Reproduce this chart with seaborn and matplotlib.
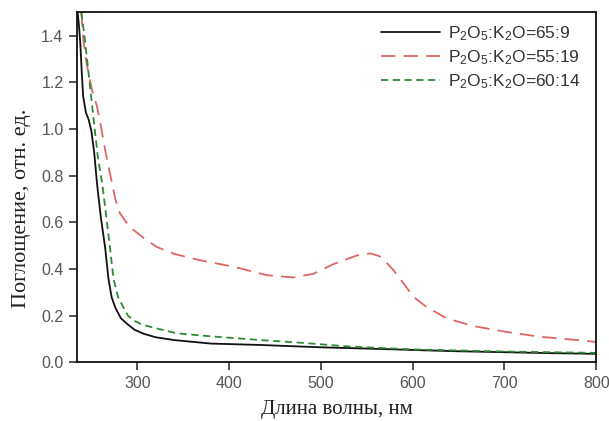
import numpy as np
import pandas as pd
import seaborn as sns
import matplotlib
matplotlib.use('Agg')
import matplotlib.pyplot as plt

wl_65_9 = [235, 236.5, 238, 239.5, 241, 244, 247, 250, 253, 256, 260, 265, 268.5, 272, 276,
           282, 289, 297, 307, 320, 340, 380, 434, 500, 564, 605, 650, 700, 750, 800]
abs_65_9 = [1.50, 1.44, 1.36, 1.24, 1.14, 1.07, 1.04, 0.99, 0.90, 0.77, 0.63, 0.49, 0.36, 0.28, 0.235,
            0.19, 0.165, 0.14, 0.123, 0.108, 0.096, 0.081, 0.075, 0.065, 0.058, 0.053, 0.048, 0.044, 0.040, 0.037]

wl_55_19 = [239, 241.3, 244, 246.7, 251, 255.9, 260, 263, 267, 271.8, 276, 281, 288, 296, 308, 321,
            340, 368, 405, 441, 470, 492, 513, 539, 554, 564, 572, 579, 590, 601, 615, 637, 666,
            702, 739, 768, 800]
abs_55_19 = [1.50, 1.38, 1.30, 1.24, 1.16, 1.10, 1.02, 0.95, 0.87, 0.78, 0.70, 0.64, 0.60, 0.567, 0.53, 0.495,
             0.465, 0.438, 0.41, 0.374, 0.364, 0.38, 0.42, 0.458, 0.467, 0.455, 0.425, 0.396, 0.339, 0.281, 0.238,
             0.189, 0.156, 0.131, 0.11, 0.10, 0.088]

wl_60_14 = [239, 243, 248, 253, 257, 262, 266, 270, 274, 279, 285, 290, 296, 305, 314, 330, 343,
            380, 434, 480, 532, 600, 700, 800]
abs_60_14 = [1.50, 1.38, 1.20, 1.02, 0.88, 0.76, 0.63, 0.50, 0.36, 0.28, 0.235, 0.20, 0.18, 0.163, 0.153,
             0.137, 0.125, 0.112, 0.096, 0.084, 0.068, 0.056, 0.047, 0.041]

labels = [r'P$_2$O$_5$:K$_2$O=65:9', r'P$_2$O$_5$:K$_2$O=55:19', r'P$_2$O$_5$:K$_2$O=60:14']
colors = ['#111111', '#e06565', '#2f8a35']
x_ticks = [300, 400, 500, 600, 700, 800]
y_ticks = [0.0, 0.2, 0.4, 0.6, 0.8, 1.0, 1.2, 1.4]

# Собираем длинную таблицу для seaborn
df = pd.concat([
    pd.DataFrame({'wl': wl_65_9, 'abs': abs_65_9, 'sample': labels[0]}),
    pd.DataFrame({'wl': wl_55_19, 'abs': abs_55_19, 'sample': labels[1]}),
    pd.DataFrame({'wl': wl_60_14, 'abs': abs_60_14, 'sample': labels[2]}),
], ignore_index=True)

sns.set_theme(style='ticks')
plt.rcParams['font.family'] = ['Liberation Sans', 'DejaVu Sans']
plt.rcParams['mathtext.default'] = 'regular'

fig = plt.figure(figsize=(6.09, 4.21), dpi=100)
ax = fig.add_axes([0.126, 0.139, 0.853, 0.832])

sns.lineplot(data=df, x='wl', y='abs', hue='sample', style='sample',
             palette=dict(zip(labels, colors)),
             dashes={labels[0]: '', labels[1]: (8, 4.5), labels[2]: (4, 2.5)},
             estimator=None, sort=False, linewidth=1.3, ax=ax)

ax.set_xlim(234, 800)
ax.set_ylim(0, 1.5)
ax.set_xticks(x_ticks)
ax.set_yticks(y_ticks)
ax.set_yticklabels([f'{v:.1f}' for v in y_ticks])
ax.tick_params(axis='both', direction='out', length=6, width=1.2, labelsize=11.5,
               colors='#333333', labelcolor='#555555')
for sp in ax.spines.values():
    sp.set_linewidth(1.3)
    sp.set_color('#111111')

ax.set_xlabel('Длина волны, нм', family=['Liberation Serif'], fontsize=15, color='#222222', labelpad=7)
ax.set_ylabel('Поглощение, отн. ед.', family=['Liberation Serif'], fontsize=16, color='#222222')
ax.yaxis.set_label_coords(-0.088, 0.44)

leg = ax.legend(loc='upper right', frameon=False, fontsize=12.5, handlelength=3.4,
                handletextpad=0.5, labelspacing=0.3, bbox_to_anchor=(1.0, 1.01))
for t in leg.get_texts():
    t.set_color('#333333')

fig.savefig('out.png', dpi=100)
